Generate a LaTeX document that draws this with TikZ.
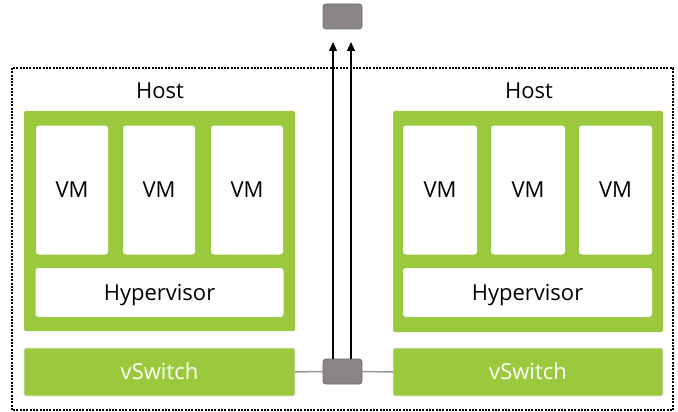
\documentclass[tikz,border=0pt]{standalone}
\usepackage{fontspec}
\setmainfont{Open Sans}
\usetikzlibrary{arrows.meta}

\definecolor{hostgreen}{HTML}{9BC93D}
\definecolor{portgray}{HTML}{8A8587}
\definecolor{portedge}{HTML}{6E6A6B}
\definecolor{linkgray}{HTML}{9A9A9A}

\tikzset{
	labelfont/.style={font=\fontsize{22}{26}\selectfont,text height=15.5pt,text depth=0pt},
	hostbox/.style={fill=hostgreen,rounded corners=2pt,inner sep=0,outer sep=0},
	vmbox/.style={fill=white,rounded corners=3pt,inner sep=0,outer sep=0,minimum height=129pt,labelfont},
	hvbox/.style={fill=white,rounded corners=3pt,inner sep=0,outer sep=0,minimum height=49pt,labelfont},
	switchbox/.style={fill=hostgreen,draw=black!8,line width=0.8pt,rounded corners=2pt,inner sep=0,outer sep=0,minimum height=48pt,text=white,labelfont},
	portbox/.style={fill=portgray,draw=portedge,line width=0.8pt,rounded corners=3pt,inner sep=0,outer sep=0,minimum width=39pt,minimum height=25pt},
	link/.style={draw=linkgray,line width=1.5pt},
	uplink/.style={draw=black,line width=1.1pt,-{Triangle[length=9pt,width=8pt]}}
}

\begin{document}
\begin{tikzpicture}[x=1pt,y=-1pt]
	\useasboundingbox (0,0) rectangle (678,412);
	% enclosure
	\draw[line width=1.1pt,dash pattern=on 2pt off 1.3pt] (12,68) rectangle (673,410);

	% left host
	\node[labelfont] (lhost) at (160,91) {Host};
	\node[hostbox,minimum width=271pt,minimum height=220pt] (lgreen) at (159.5,221) {};
	\node[vmbox,minimum width=72pt] (lvm1) at (72,190) {VM};
	\node[vmbox,minimum width=72pt] (lvm2) at (159,190) {VM};
	\node[vmbox,minimum width=72pt] (lvm3) at (247,190) {VM};
	\node[hvbox,minimum width=248pt] (lhv) at (159.5,292.5) {Hypervisor};
	\node[switchbox,minimum width=271pt] (lsw) at (159.5,372) {vSwitch};

	% right host
	\node[labelfont] (rhost) at (529,91) {Host};
	\node[hostbox,minimum width=270pt,minimum height=221pt] (rgreen) at (528,221.5) {};
	\node[vmbox,minimum width=74pt] (rvm1) at (440,190) {VM};
	\node[vmbox,minimum width=74pt] (rvm2) at (528,190) {VM};
	\node[vmbox,minimum width=73pt] (rvm3) at (615.5,190) {VM};
	\node[hvbox,minimum width=249pt] (rhv) at (527.5,292.5) {Hypervisor};
	\node[switchbox,minimum width=270pt] (rsw) at (528,372) {vSwitch};

	% physical switch and uplinks
	\node[portbox] (pswitch) at (342.5,371.5) {};
	\node[portbox] (core) at (342.5,16.5) {};
	\coordinate (upa) at (333,42);
	\coordinate (upb) at (351,42);

	\draw[link] (lsw.east) -- (pswitch.west);
	\draw[link] (pswitch.east) -- (rsw.west);
	\draw[uplink] (pswitch.north -| upa) -- (upa);
	\draw[uplink] (pswitch.north -| upb) -- (upb);
\end{tikzpicture}
\end{document}
